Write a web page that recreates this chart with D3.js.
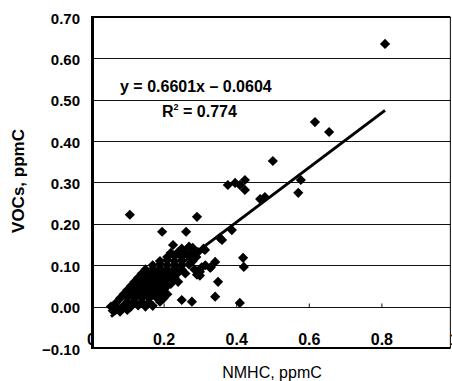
<!DOCTYPE html>
<html>
<head>
<meta charset="utf-8">
<script src="https://cdn.jsdelivr.net/npm/d3@7"></script>
<style>
  body { margin: 0; background: #fff; }
  svg { display: block; font-family: "Liberation Sans", Arial, sans-serif; }
</style>
</head>
<body>
<div id="chart"></div>
<script>
// NMHC (x) and VOCs (y), ppmC
var nmhc = [
  0.06, 0.08, 0.10,
  0.055, 0.07, 0.09, 0.11, 0.13, 0.15, 0.17,
  0.07, 0.10, 0.12, 0.14, 0.16, 0.19,
  0.08, 0.10, 0.12, 0.14, 0.16, 0.18, 0.20,
  0.09, 0.11, 0.13, 0.15, 0.17, 0.19, 0.21,
  0.10, 0.12, 0.14, 0.16, 0.18, 0.20,
  0.11, 0.13, 0.15, 0.17, 0.19, 0.21, 0.22,
  0.12, 0.14, 0.16, 0.18, 0.20, 0.22, 0.24,
  0.13, 0.15, 0.17, 0.19, 0.21, 0.23,
  0.14, 0.16, 0.18, 0.20, 0.22, 0.24, 0.26,
  0.15, 0.17, 0.19, 0.21, 0.23, 0.25,
  0.17, 0.19, 0.21, 0.23, 0.25, 0.27,
  0.19, 0.21, 0.23, 0.25, 0.28,
  0.21, 0.23, 0.25, 0.27, 0.29,
  0.22, 0.24, 0.26, 0.28,
  0.25, 0.28, 0.27, 0.31, 0.295, 0.314,
  0.285, 0.30, 0.305, 0.315, 0.33, 0.292, 0.30,
  0.25, 0.278, 0.342, 0.35, 0.41, 0.328, 0.342,
  0.419, 0.421, 0.226, 0.361, 0.355, 0.388,
  0.196, 0.262, 0.107, 0.292,
  0.377, 0.397, 0.41, 0.424, 0.424,
  0.466, 0.479, 0.571, 0.578, 0.501,
  0.617, 0.656, 0.81
];
var vocs = [
  -0.01, -0.012, -0.008,
  0.00, 0.00, 0.002, 0.00, 0.003, 0.00, 0.002,
  0.01, 0.012, 0.01, 0.011, 0.01, 0.012,
  0.02, 0.022, 0.02, 0.021, 0.02, 0.022, 0.02,
  0.03, 0.03, 0.032, 0.03, 0.031, 0.03, 0.03,
  0.04, 0.042, 0.04, 0.041, 0.04, 0.042,
  0.05, 0.05, 0.052, 0.05, 0.051, 0.05, 0.055,
  0.06, 0.062, 0.06, 0.061, 0.06, 0.062, 0.06,
  0.07, 0.07, 0.072, 0.07, 0.071, 0.07,
  0.08, 0.082, 0.08, 0.081, 0.08, 0.082, 0.08,
  0.09, 0.09, 0.092, 0.09, 0.091, 0.09,
  0.10, 0.102, 0.10, 0.101, 0.10, 0.102,
  0.11, 0.112, 0.11, 0.111, 0.11,
  0.12, 0.122, 0.12, 0.121, 0.12,
  0.13, 0.132, 0.13, 0.131,
  0.14, 0.142, 0.145, 0.14, 0.132, 0.137,
  0.09, 0.075, 0.095, 0.10, 0.095, 0.077, 0.084,
  0.016, 0.012, 0.024, 0.06, 0.009, 0.094, 0.108,
  0.118, 0.096, 0.149, 0.161, 0.166, 0.185,
  0.181, 0.181, 0.222, 0.217,
  0.294, 0.299, 0.294, 0.306, 0.282,
  0.26, 0.265, 0.275, 0.306, 0.352,
  0.446, 0.422, 0.635
];
var xTicks = [0, 0.2, 0.4, 0.6, 0.8, 1];
var yTicks = [-0.1, 0, 0.1, 0.2, 0.3, 0.4, 0.5, 0.6, 0.7];
var slope = 0.6601, intercept = -0.0604, r2 = 0.774;
var xMax = 0.99;

var points = nmhc.map(function(d, i) { return { x: d, y: vocs[i] }; });

var svg = d3.select("#chart").append("svg")
    .attr("width", 452)
    .attr("height", 381);

var x = d3.scaleLinear().domain([0, 1]).range([91, 454]);
var y = d3.scaleLinear().domain([-0.1, 0.7]).range([348, 17]);

// horizontal gridlines
svg.append("g")
  .selectAll("line")
  .data(yTicks)
  .enter().append("line")
    .attr("x1", x(0))
    .attr("x2", x(xMax))
    .attr("y1", function(d) { return Math.round(y(d)) + 0.5; })
    .attr("y2", function(d) { return Math.round(y(d)) + 0.5; })
    .attr("stroke", "#111")
    .attr("stroke-width", 1.2);

// y tick labels
svg.append("g")
  .selectAll("text")
  .data(yTicks)
  .enter().append("text")
    .attr("x", 80)
    .attr("y", function(d) { return y(d) + 1; })
    .attr("text-anchor", "end")
    .attr("dominant-baseline", "central")
    .style("font-size", "15px")
    .style("font-weight", "bold")
    .text(function(d) { return (d < 0 ? "\u2212" : "") + Math.abs(d).toFixed(2); });

// x axis crosses at 0
svg.append("clipPath")
    .attr("id", "zeroclip")
  .append("rect")
    .attr("x", -20).attr("y", 0).attr("width", 20).attr("height", 60);

var xAxis = d3.axisBottom(x)
    .tickValues(xTicks)
    .tickSizeInner(-4)
    .tickSizeOuter(0)
    .tickPadding(26)
    .tickFormat(function(d) { return d === 0 || d === 1 ? String(d) : d.toFixed(1); });

var gx = svg.append("g")
    .attr("transform", "translate(0," + (Math.round(y(0)) + 0.5) + ")")
    .call(xAxis);
gx.select(".domain").remove();
gx.selectAll(".tick line").attr("stroke", "#111");
gx.selectAll(".tick text")
    .style("font-family", "'Liberation Sans', Arial, sans-serif")
    .style("font-size", "16px")
    .style("font-weight", "bold")
    .attr("fill", "#000");
gx.selectAll(".tick").filter(function(d) { return d === 0; })
    .select("text").attr("clip-path", "url(#zeroclip)");

// frame
svg.append("line")
    .attr("x1", x(0) + 1.5).attr("x2", x(0) + 1.5)
    .attr("y1", y(0.7) - 1).attr("y2", y(-0.1) + 1)
    .attr("stroke", "#000").attr("stroke-width", 3);
svg.append("line")
    .attr("x1", x(0)).attr("x2", x(xMax))
    .attr("y1", y(0.7)).attr("y2", y(0.7))
    .attr("stroke", "#000").attr("stroke-width", 2.2);
svg.append("line")
    .attr("x1", x(0)).attr("x2", x(xMax))
    .attr("y1", y(-0.1)).attr("y2", y(-0.1))
    .attr("stroke", "#000").attr("stroke-width", 2.2);
svg.append("line")
    .attr("x1", x(xMax)).attr("x2", x(xMax))
    .attr("y1", y(0.7)).attr("y2", y(-0.1))
    .attr("stroke", "#000").attr("stroke-width", 1);

// points
var diamond = d3.symbol().type(d3.symbolSquare).size(52);
svg.append("g")
  .selectAll("path")
  .data(points)
  .enter().append("path")
    .attr("d", diamond)
    .attr("transform", function(d) {
      return "translate(" + x(d.x) + "," + y(d.y) + ") rotate(45)";
    })
    .attr("fill", "#000");

// linear trendline over the data range
var xExt = d3.extent(points, function(d) { return d.x; });
svg.append("line")
    .attr("x1", x(xExt[0])).attr("y1", y(slope * xExt[0] + intercept))
    .attr("x2", x(xExt[1])).attr("y2", y(slope * xExt[1] + intercept))
    .attr("stroke", "#000")
    .attr("stroke-width", 3);

// equation labels
svg.append("text")
    .attr("x", 120).attr("y", 92)
    .style("font-size", "16px")
    .style("font-weight", "bold")
    .text("y = " + slope + "x \u2013 " + Math.abs(intercept));

var r2Text = svg.append("text")
    .attr("x", 162).attr("y", 117)
    .style("font-size", "16px")
    .style("font-weight", "bold");
r2Text.append("tspan").text("R");
r2Text.append("tspan").attr("dy", -7).style("font-size", "9px").text("2");
r2Text.append("tspan").attr("dy", 7).text(" = " + r2);

// axis titles
svg.append("text")
    .attr("x", 272).attr("y", 378)
    .attr("text-anchor", "middle")
    .style("font-size", "16px")
    .text("NMHC, ppmC");

svg.append("text")
    .attr("transform", "translate(24,181) rotate(-90)")
    .attr("text-anchor", "middle")
    .style("font-size", "17px")
    .style("font-weight", "bold")
    .text("VOCs, ppmC");
</script>
</body>
</html>
